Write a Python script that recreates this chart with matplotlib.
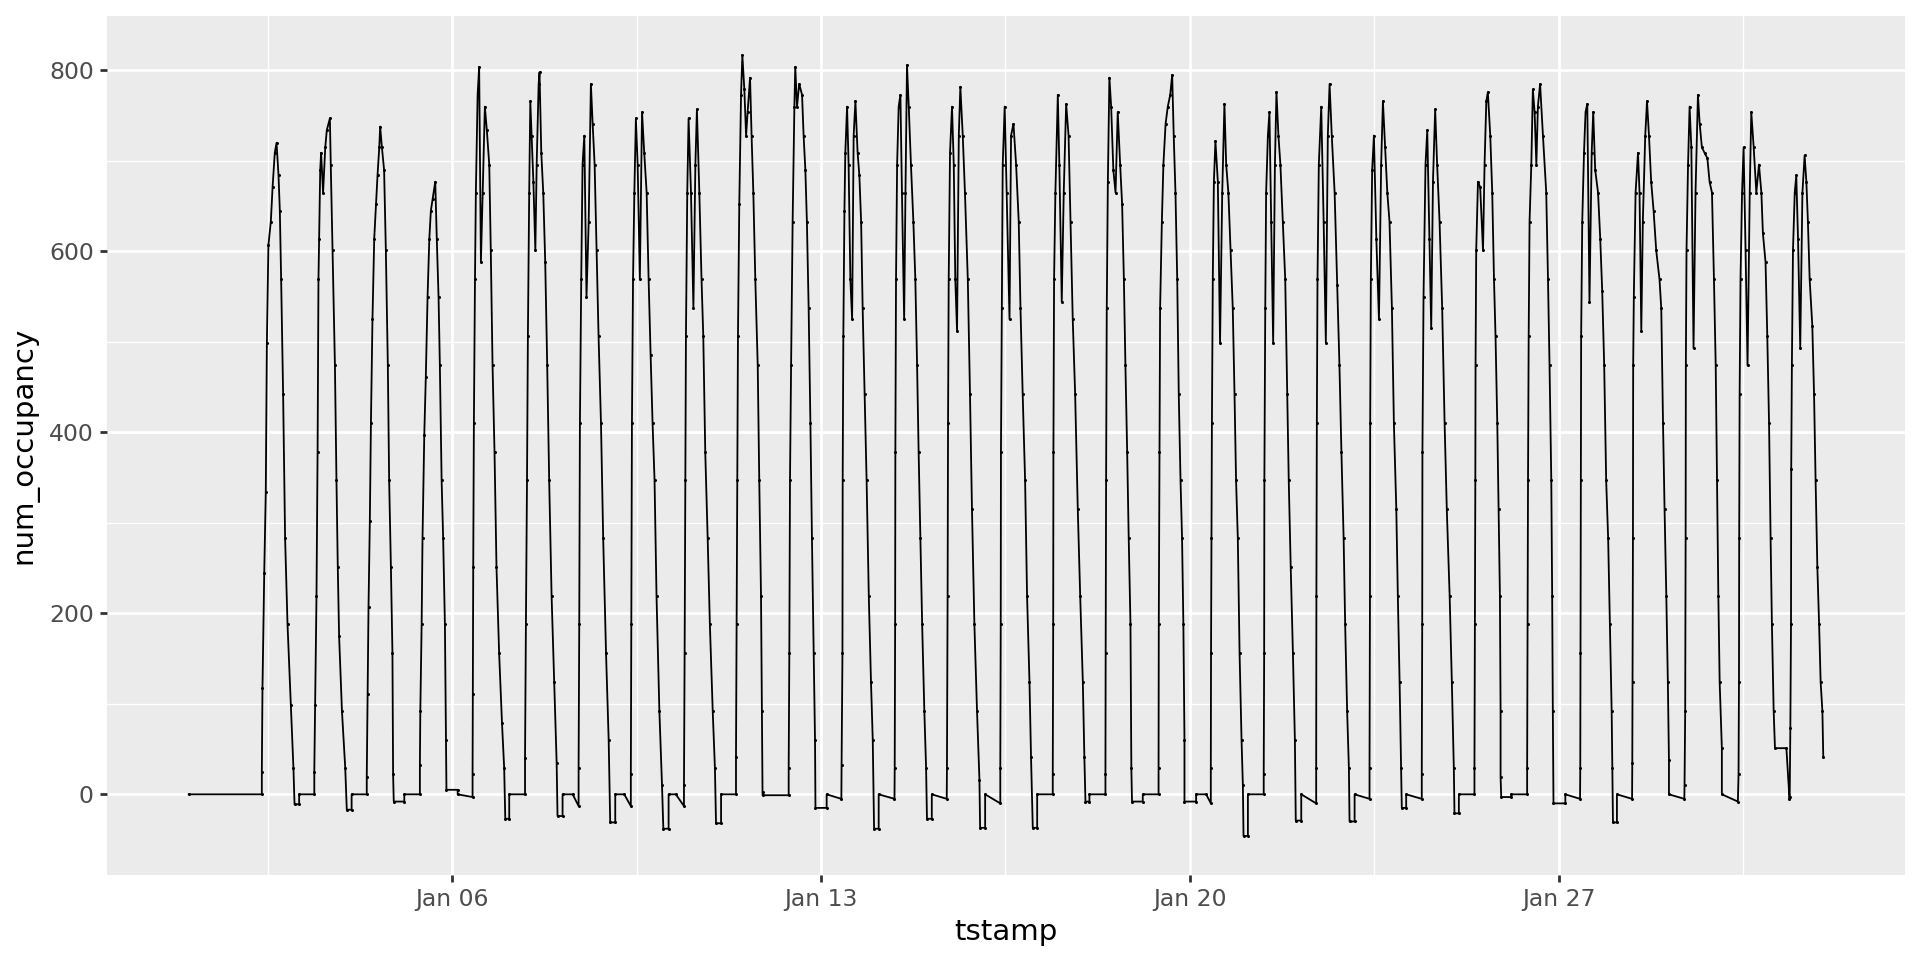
import matplotlib
matplotlib.use("Agg")
import matplotlib.pyplot as plt
import matplotlib.dates as mdates
from matplotlib.ticker import MultipleLocator, FixedLocator
from datetime import datetime, timedelta

# occupancy readings per calendar day: (hour since that day's midnight, num_occupancy)
# hours past 24 belong to the night after that day
jan01 = [(0.0, 0), (33.3, 0)]
jan02 = [(9.3, 25), (9.6, 118), (10.4, 245), (11.1, 334), (11.6, 499), (12.3, 607), (13.4, 633),
         (14.2, 671), (15.2, 709), (16.0, 720), (16.9, 684), (17.5, 645), (18.1, 569), (19.0, 442),
         (19.9, 283), (21.0, 188), (22.5, 99), (23.7, 29), (24.2, -11), (26.3, -11), (26.3, 0), (33.2, 0)]
jan03 = [(9.2, 25), (9.6, 99), (10.2, 219), (10.7, 378), (11.1, 569), (11.4, 614), (11.9, 690),
         (12.3, 709), (13.2, 665), (14.2, 715), (14.9, 734), (16.3, 747), (16.7, 696), (17.5, 601),
         (18.6, 474), (19.3, 347), (19.9, 251), (20.5, 175), (21.8, 92), (23.3, 29), (24.0, -17),
         (26.2, -17), (26.2, 0), (33.1, 0)]
jan04 = [(9.1, 19), (9.5, 111), (9.9, 207), (10.5, 302), (11.0, 410), (11.7, 525), (12.5, 614),
         (13.3, 652), (14.0, 684), (14.8, 715), (15.2, 738), (16.0, 715), (17.0, 690), (17.8, 601),
         (18.7, 474), (19.3, 347), (20.1, 251), (20.8, 156), (21.1, 22), (21.4, -8), (26.2, -8),
         (26.2, 0), (33.3, 0)]
jan05 = [(9.3, 32), (9.5, 92), (10.1, 188), (10.5, 283), (11.3, 397), (12.0, 461), (12.8, 550),
         (13.6, 614), (14.3, 645), (15.1, 658), (16.3, 677), (17.0, 614), (17.8, 550), (18.4, 474),
         (19.2, 347), (19.9, 283), (20.7, 188), (21.2, 60), (21.4, 5), (26.5, 5), (26.5, 0), (33.3, -3)]
jan06 = [(9.3, 22), (9.4, 111), (9.6, 251), (9.9, 410), (10.4, 569), (10.8, 665), (11.6, 773),
         (12.3, 804), (13.1, 588), (13.9, 665), (14.9, 760), (15.8, 734), (16.9, 696), (17.6, 601),
         (18.4, 474), (19.3, 378), (20.2, 251), (21.4, 156), (22.7, 79), (23.7, 29), (24.2, -27),
         (26.0, -27), (26.0, 0), (33.2, 0)]
jan07 = [(9.2, 40), (9.6, 188), (10.1, 347), (10.5, 506), (11.1, 665), (11.6, 766), (12.2, 728),
         (13.0, 677), (13.9, 601), (14.5, 696), (15.4, 785), (15.8, 798), (16.6, 709), (17.5, 665),
         (18.4, 588), (19.3, 474), (20.2, 347), (21.3, 219), (22.5, 124), (23.6, 35), (24.0, -24),
         (26.3, -24), (26.3, 0), (30.9, 0), (33.6, -13)]
jan08 = [(9.6, 29), (9.9, 188), (10.2, 410), (10.8, 569), (11.4, 696), (12.2, 728), (13.2, 550),
         (14.2, 633), (15.2, 785), (16.0, 741), (16.9, 696), (17.8, 601), (18.7, 506), (19.8, 410),
         (20.8, 283), (22.1, 156), (23.3, 60), (24.0, -31), (26.3, -31), (26.3, 0), (30.4, 0),
         (33.4, -13)]
jan09 = [(9.4, 22), (9.6, 188), (9.9, 410), (10.4, 569), (11.0, 665), (11.7, 747), (12.5, 696),
         (13.5, 569), (14.5, 754), (15.5, 709), (16.6, 665), (17.5, 569), (18.4, 486), (19.3, 410),
         (20.2, 347), (21.1, 219), (22.4, 92), (23.6, 10), (24.2, -38), (26.6, -38), (26.6, 0),
         (29.9, 0), (33.6, -13)]
jan10 = [(9.6, 10), (9.9, 156), (10.2, 347), (10.5, 506), (11.1, 665), (11.7, 747), (12.8, 665),
         (13.9, 537), (14.8, 696), (15.5, 757), (16.6, 665), (17.6, 569), (18.4, 506), (19.3, 378),
         (20.4, 283), (21.4, 188), (22.7, 92), (23.7, 29), (24.2, -32), (26.5, -32), (26.5, 0),
         (33.3, 0)]
jan11 = [(9.3, 41), (9.6, 188), (9.9, 347), (10.2, 506), (10.8, 652), (11.6, 773), (12.2, 817),
         (13.1, 779), (13.9, 728), (14.6, 754), (15.7, 792), (16.4, 728), (17.2, 665), (18.1, 569),
         (19.2, 474), (19.9, 347), (20.7, 219), (21.1, 92), (21.4, 3), (21.4, -1), (33.3, -1)]
jan12 = [(9.3, 29), (9.6, 156), (9.9, 347), (10.4, 474), (11.1, 633), (11.9, 760), (12.3, 804),
         (13.1, 760), (14.1, 785), (15.4, 773), (16.1, 728), (16.9, 690), (17.6, 633), (18.4, 537),
         (19.2, 410), (19.9, 283), (20.7, 156), (21.3, 60), (21.5, -15), (26.6, -15), (26.6, 0),
         (33.3, -5)]
jan13 = [(9.4, 32), (9.8, 156), (9.9, 347), (10.2, 506), (10.7, 645), (11.1, 709), (11.9, 760),
         (12.6, 696), (13.4, 569), (14.2, 525), (14.9, 728), (15.7, 766), (16.7, 709), (17.5, 684),
         (18.3, 633), (19.0, 537), (19.9, 442), (20.8, 347), (21.8, 219), (22.8, 124), (23.6, 60),
         (24.2, -38), (26.3, -38), (26.3, 0), (33.5, -5)]
jan14 = [(9.6, 29), (9.8, 188), (9.9, 378), (10.2, 569), (10.7, 696), (11.4, 760), (12.2, 773),
         (12.9, 665), (13.9, 525), (14.5, 665), (15.2, 806), (16.0, 760), (17.0, 696), (18.1, 633),
         (19.0, 569), (19.8, 474), (20.5, 378), (21.3, 283), (22.1, 188), (23.1, 92), (23.9, 29),
         (24.3, -27), (26.5, -27), (26.5, 0), (33.3, -5)]
jan15 = [(9.4, 29), (9.7, 219), (9.9, 410), (10.2, 569), (10.8, 709), (11.7, 760), (12.5, 696),
         (13.2, 569), (14.0, 512), (14.8, 728), (15.5, 782), (16.6, 728), (17.6, 665), (18.9, 569),
         (19.9, 442), (20.8, 315), (21.9, 188), (23.1, 92), (24.2, 16), (24.5, -37), (26.8, -37),
         (26.8, 0), (33.7, -10)]
jan16 = [(9.7, 29), (9.9, 188), (10.0, 378), (10.4, 537), (10.8, 696), (11.7, 760), (12.6, 665),
         (13.9, 525), (14.6, 728), (15.7, 741), (16.9, 696), (18.1, 633), (18.9, 537), (19.9, 442),
         (21.0, 347), (21.9, 219), (23.0, 124), (23.7, 41), (24.5, -37), (26.5, -37), (26.5, 0),
         (33.6, 0)]
jan17 = [(9.6, 22), (9.8, 188), (9.9, 378), (10.2, 569), (10.8, 665), (11.9, 773), (12.6, 696),
         (13.7, 544), (14.6, 665), (15.7, 763), (16.8, 728), (17.7, 633), (18.7, 525), (19.8, 442),
         (21.0, 315), (22.1, 219), (23.3, 124), (24.0, 41), (24.5, -8), (26.3, -8), (26.3, 0),
         (33.6, 0)]
jan18 = [(9.6, 22), (9.7, 156), (9.9, 347), (10.2, 537), (10.7, 677), (11.4, 792), (12.2, 760),
         (13.2, 690), (14.2, 665), (15.2, 754), (16.3, 696), (17.2, 652), (18.0, 569), (18.7, 474),
         (19.5, 378), (20.2, 283), (21.0, 188), (21.4, 29), (21.7, -8), (26.6, -8), (26.6, 0),
         (33.8, 0)]
jan19 = [(9.8, 29), (9.9, 188), (10.2, 378), (10.5, 537), (11.3, 633), (12.0, 696), (13.0, 741),
         (14.0, 760), (15.1, 773), (16.0, 795), (16.7, 728), (17.5, 665), (18.3, 569), (19.0, 442),
         (19.8, 347), (20.5, 283), (21.1, 188), (21.6, 60), (21.6, -8), (26.9, -8), (26.9, 0),
         (31.5, 0), (33.6, -10)]
jan20 = [(9.6, 29), (9.7, 156), (9.9, 283), (10.1, 410), (10.5, 569), (11.0, 677), (11.7, 722),
         (12.8, 677), (13.8, 499), (14.8, 665), (15.8, 763), (16.6, 696), (17.6, 665), (18.6, 601),
         (19.6, 537), (20.4, 442), (21.1, 347), (21.9, 283), (22.7, 156), (23.6, 60), (24.2, 10),
         (24.5, -46), (26.5, -46), (26.5, 0), (33.7, 0)]
jan21 = [(9.7, 22), (9.9, 156), (10.0, 347), (10.4, 537), (10.8, 665), (11.6, 728), (12.3, 754),
         (13.1, 633), (14.0, 499), (14.8, 696), (15.5, 776), (16.4, 728), (17.3, 696), (18.4, 633),
         (19.5, 569), (20.4, 442), (21.1, 347), (22.0, 251), (23.0, 156), (23.9, 60), (24.3, -29),
         (26.8, -29), (26.8, 0), (33.6, -10)]
jan22 = [(9.6, 29), (9.7, 219), (9.9, 410), (10.2, 569), (10.8, 696), (11.9, 760), (13.0, 633),
         (14.0, 499), (14.9, 728), (15.7, 785), (16.7, 728), (18.0, 665), (19.2, 563), (20.2, 474),
         (21.1, 378), (22.1, 283), (22.8, 188), (23.7, 92), (24.5, 29), (24.8, -30), (27.1, -30),
         (27.1, 0), (33.9, -5)]
jan23 = [(9.9, 29), (10.1, 219), (10.2, 410), (10.5, 569), (11.1, 690), (11.9, 728), (13.0, 614),
         (14.2, 525), (15.2, 696), (16.0, 766), (17.0, 715), (18.0, 665), (19.0, 633), (20.1, 537),
         (21.0, 410), (22.1, 315), (22.8, 219), (23.6, 124), (24.3, 29), (24.6, -15), (26.6, -15),
         (26.6, 0), (33.7, -5)]
jan24 = [(9.7, 22), (9.9, 188), (10.0, 378), (10.5, 550), (11.4, 696), (12.2, 734), (13.2, 614),
         (14.0, 515), (14.8, 677), (15.8, 757), (16.7, 696), (17.8, 633), (19.0, 537), (20.1, 410),
         (21.1, 315), (22.4, 219), (23.4, 124), (24.3, 29), (24.6, -21), (26.6, -21), (26.6, 0),
         (33.7, 0)]
jan25 = [(9.7, 29), (9.9, 188), (10.1, 347), (10.2, 474), (10.5, 601), (11.3, 677), (12.3, 671),
         (13.6, 601), (14.3, 696), (15.1, 766), (15.8, 776), (16.9, 728), (17.8, 665), (18.6, 569),
         (19.3, 506), (20.1, 410), (20.7, 315), (21.3, 219), (21.6, 92), (21.6, 19), (21.9, -3),
         (26.5, -3), (26.5, 0), (33.7, 0)]
jan26 = [(9.7, 29), (9.9, 188), (10.1, 347), (10.4, 506), (10.8, 633), (11.6, 696), (12.3, 779),
         (13.1, 754), (13.9, 696), (14.6, 760), (15.6, 785), (16.9, 728), (18.4, 665), (19.2, 569),
         (19.9, 474), (20.7, 347), (21.1, 219), (21.4, 92), (21.7, -10), (27.1, -10), (27.1, 0),
         (33.8, -5)]
jan27 = [(9.9, 29), (10.0, 156), (10.2, 347), (10.3, 506), (10.8, 633), (11.6, 709), (12.3, 754),
         (13.1, 763), (14.1, 544), (15.1, 709), (15.8, 754), (16.7, 690), (18.0, 665), (19.0, 614),
         (19.9, 556), (20.8, 474), (21.7, 347), (22.6, 283), (23.4, 188), (24.2, 92), (24.5, 29),
         (24.8, -31), (26.6, -31), (26.6, 0), (33.5, -5)]
jan28 = [(9.6, 35), (9.7, 124), (9.9, 283), (10.0, 474), (10.3, 550), (11.1, 665), (12.2, 709),
         (12.9, 665), (13.7, 512), (14.4, 633), (15.5, 728), (16.3, 766), (17.2, 728), (18.2, 677),
         (19.3, 645), (20.5, 601), (22.0, 569), (22.8, 537), (23.6, 410), (24.3, 315), (25.1, 219),
         (25.8, 124), (26.3, 38), (26.3, 0), (33.3, -5)]
jan29 = [(9.4, 10), (9.7, 92), (9.9, 283), (10.0, 474), (10.3, 601), (11.0, 696), (11.7, 760),
         (12.5, 715), (13.5, 493), (14.4, 665), (15.5, 773), (16.3, 741), (17.3, 715), (18.5, 709),
         (19.8, 703), (20.8, 677), (21.9, 665), (22.8, 569), (23.6, 474), (24.2, 347), (24.8, 219),
         (25.4, 124), (26.4, 51), (26.4, 0), (33.7, -8)]
jan30 = [(10.0, 22), (10.2, 124), (10.3, 283), (10.5, 442), (10.9, 569), (11.6, 665), (12.3, 715),
         (13.2, 601), (14.1, 474), (15.1, 665), (15.8, 754), (16.9, 715), (18.1, 665), (19.3, 696),
         (20.4, 665), (21.1, 620), (22.3, 588), (23.1, 506), (23.9, 410), (24.6, 283), (25.2, 188),
         (26.0, 92), (26.6, 51), (31.8, 51), (33.2, -5)]
jan31 = [(9.3, -3), (9.6, 73), (9.9, 188), (10.0, 359), (10.3, 474), (10.8, 601), (11.6, 665),
         (12.3, 684), (13.1, 614), (14.1, 493), (15.1, 665), (16.1, 706), (16.9, 677), (17.6, 633),
         (18.4, 569), (19.6, 518), (20.4, 442), (21.1, 347), (21.9, 251), (22.7, 188), (23.4, 124),
         (24.2, 92), (24.6, 41)]

days = [jan01, jan02, jan03, jan04, jan05, jan06, jan07, jan08, jan09, jan10, jan11, jan12,
        jan13, jan14, jan15, jan16, jan17, jan18, jan19, jan20, jan21, jan22, jan23, jan24,
        jan25, jan26, jan27, jan28, jan29, jan30, jan31]
start = datetime(2018, 1, 1)

tstamp = []
num_occupancy = []
for i, day in enumerate(days):
    midnight = start + timedelta(days=i)
    for h, v in day:
        tstamp.append(midnight + timedelta(hours=h))
        num_occupancy.append(v)

fig = plt.figure(figsize=(19.2, 9.6), dpi=100)
ax = fig.add_axes([107 / 1920, 1 - 875 / 960, 1798 / 1920, 859 / 960])
ax.set_facecolor('#EBEBEB')
for s in ax.spines.values():
    s.set_visible(False)

ax.plot(tstamp, num_occupancy, color='black', lw=1.3, marker='o', ms=2.2, mew=0, zorder=3)
ax.margins(x=0.05, y=0.05)

# date axis: weekly breaks, minor lines halfway between
major_days = [datetime(2018, 1, d) for d in (6, 13, 20, 27)]
ax.xaxis.set_major_locator(mdates.DayLocator(bymonthday=[6, 13, 20, 27]))
ax.xaxis.set_major_formatter(mdates.DateFormatter('%b %d'))
minor_days = [d - timedelta(days=3.5) for d in major_days] + [major_days[-1] + timedelta(days=3.5)]
ax.xaxis.set_minor_locator(FixedLocator(mdates.date2num(minor_days)))
ax.yaxis.set_major_locator(MultipleLocator(200))
ax.yaxis.set_minor_locator(MultipleLocator(100))

ax.grid(which='major', color='white', lw=2.0)
ax.grid(which='minor', color='white', lw=1.0)
ax.set_axisbelow(True)
ax.tick_params(which='major', length=5.3, width=2.0, color='#333333',
               labelsize=16.9, labelcolor='#4D4D4D', pad=4.2)
ax.tick_params(which='minor', length=0)

ax.set_xlabel('tstamp', fontsize=21.1, color='black', labelpad=5)
ax.set_ylabel('num_occupancy', fontsize=21.1, color='black', labelpad=8)

fig.savefig('out.png', dpi=100)
